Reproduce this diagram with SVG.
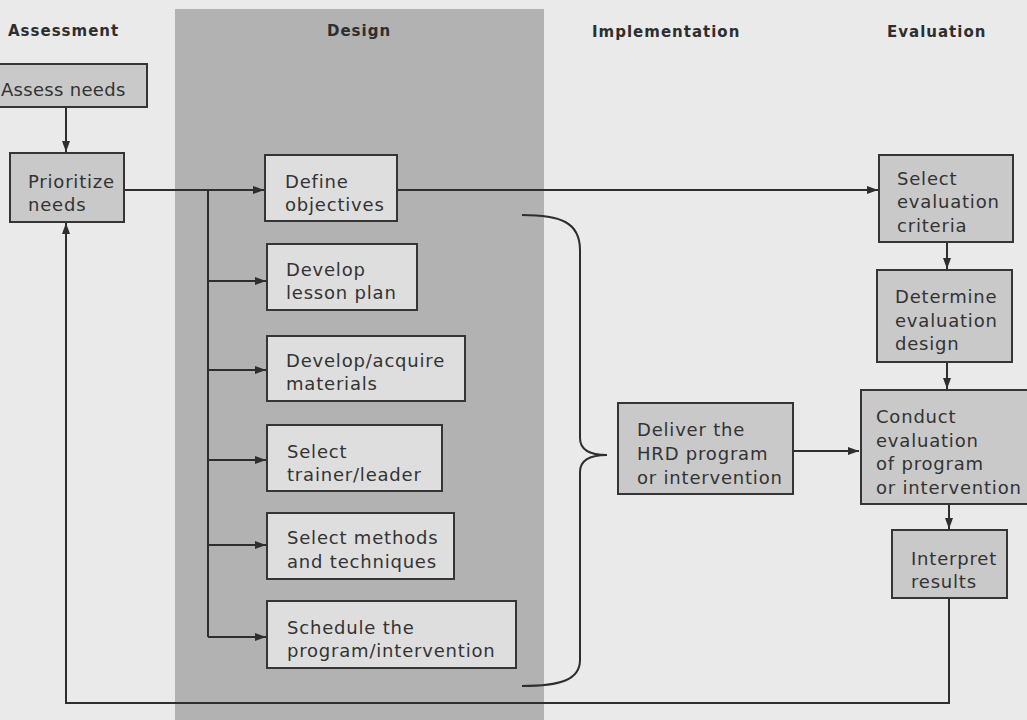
<svg xmlns="http://www.w3.org/2000/svg" width="1027" height="720" viewBox="0 0 1027 720">
<defs>
<marker id="ah" markerUnits="userSpaceOnUse" markerWidth="12" markerHeight="10" refX="11" refY="4" orient="auto">
<path d="M0,0 L11,4 L0,8 Z" fill="#2e2e2e"/>
</marker>
<style>
.bg{fill:#eaeaea}
.band{fill:#b2b2b2}
.box{fill:#c9c9c9;stroke:#353535;stroke-width:2}
.dbox{fill:#dedede;stroke:#353535;stroke-width:2}
.h{font-family:"DejaVu Sans",sans-serif;font-weight:bold;font-size:15px;letter-spacing:1px;fill:#2e2e2e}
.t{font-family:"DejaVu Sans",sans-serif;font-size:18px;letter-spacing:0.8px;fill:#333}
.ln{fill:none;stroke:#2e2e2e;stroke-width:2}
.arr{fill:none;stroke:#2e2e2e;stroke-width:2;marker-end:url(#ah)}
</style>
</defs>
<rect class="bg" x="0" y="0" width="1027" height="720"/>
<rect class="band" x="175" y="9" width="369" height="711"/>
<g id="headings">
<text class="h" x="8" y="36">Assessment</text>
<text class="h" x="327" y="36">Design</text>
<text class="h" x="592" y="37">Implementation</text>
<text class="h" x="887" y="37">Evaluation</text>
</g>
<g id="connectors">
<path class="arr" d="M66,107 V152"/>
<path class="arr" d="M124,190 H264"/>
<path class="ln" d="M208,190 V637"/>
<path class="arr" d="M208,281 H266"/>
<path class="arr" d="M208,370 H266"/>
<path class="arr" d="M208,460 H266"/>
<path class="arr" d="M208,545 H266"/>
<path class="arr" d="M208,637 H266"/>
<path class="arr" d="M397,190 H878"/>
<path class="arr" d="M947,242 V269"/>
<path class="arr" d="M947,362 V389"/>
<path class="arr" d="M793,451 H859"/>
<path class="arr" d="M949,505 V529"/>
<path class="arr" d="M949,598 V703 H66 V223"/>
<path class="ln" d="M522,215 C560,215 580,222 580,250 V438 C580,450 590,455 607,455 C590,455 580,460 580,472 V660 C580,680 560,686 522,686"/>
</g>
<g id="assess">
<rect class="box" x="-10" y="64" width="157" height="43"/>
<text class="t" x="1" y="96" style="letter-spacing:0.3px">Assess needs</text>
</g>
<g id="prioritize">
<rect class="box" x="10" y="153" width="114" height="69"/>
<text class="t" x="28" y="188">Prioritize</text>
<text class="t" x="28" y="211">needs</text>
</g>
<g id="define">
<rect class="dbox" x="265" y="155" width="132" height="66"/>
<text class="t" x="285" y="188">Define</text>
<text class="t" x="285" y="211">objectives</text>
</g>
<g id="lesson">
<rect class="dbox" x="267" y="244" width="150" height="66"/>
<text class="t" x="286" y="276">Develop</text>
<text class="t" x="286" y="299">lesson plan</text>
</g>
<g id="materials">
<rect class="dbox" x="267" y="336" width="198" height="65"/>
<text class="t" x="286" y="367">Develop/acquire</text>
<text class="t" x="286" y="390">materials</text>
</g>
<g id="trainer">
<rect class="dbox" x="267" y="425" width="175" height="66"/>
<text class="t" x="287" y="458">Select</text>
<text class="t" x="287" y="481">trainer/leader</text>
</g>
<g id="methods">
<rect class="dbox" x="267" y="513" width="187" height="66"/>
<text class="t" x="287" y="544">Select methods</text>
<text class="t" x="287" y="568">and techniques</text>
</g>
<g id="schedule">
<rect class="dbox" x="267" y="601" width="249" height="67"/>
<text class="t" x="287" y="634">Schedule the</text>
<text class="t" x="287" y="657">program/intervention</text>
</g>
<g id="deliver">
<rect class="box" x="618" y="403" width="175" height="91"/>
<text class="t" x="637" y="436">Deliver the</text>
<text class="t" x="637" y="460">HRD program</text>
<text class="t" x="637" y="484">or intervention</text>
</g>
<g id="criteria">
<rect class="box" x="879" y="155" width="134" height="87"/>
<text class="t" x="897" y="185">Select</text>
<text class="t" x="897" y="208">evaluation</text>
<text class="t" x="897" y="232">criteria</text>
</g>
<g id="evaldesign">
<rect class="box" x="877" y="270" width="135" height="92"/>
<text class="t" x="895" y="303">Determine</text>
<text class="t" x="895" y="327">evaluation</text>
<text class="t" x="895" y="350">design</text>
</g>
<g id="conduct">
<rect class="box" x="861" y="390" width="180" height="114"/>
<text class="t" x="876" y="423">Conduct</text>
<text class="t" x="876" y="447">evaluation</text>
<text class="t" x="876" y="470">of program</text>
<text class="t" x="876" y="494">or intervention</text>
</g>
<g id="interpret">
<rect class="box" x="892" y="530" width="115" height="68"/>
<text class="t" x="911" y="565">Interpret</text>
<text class="t" x="911" y="588">results</text>
</g>
</svg>
